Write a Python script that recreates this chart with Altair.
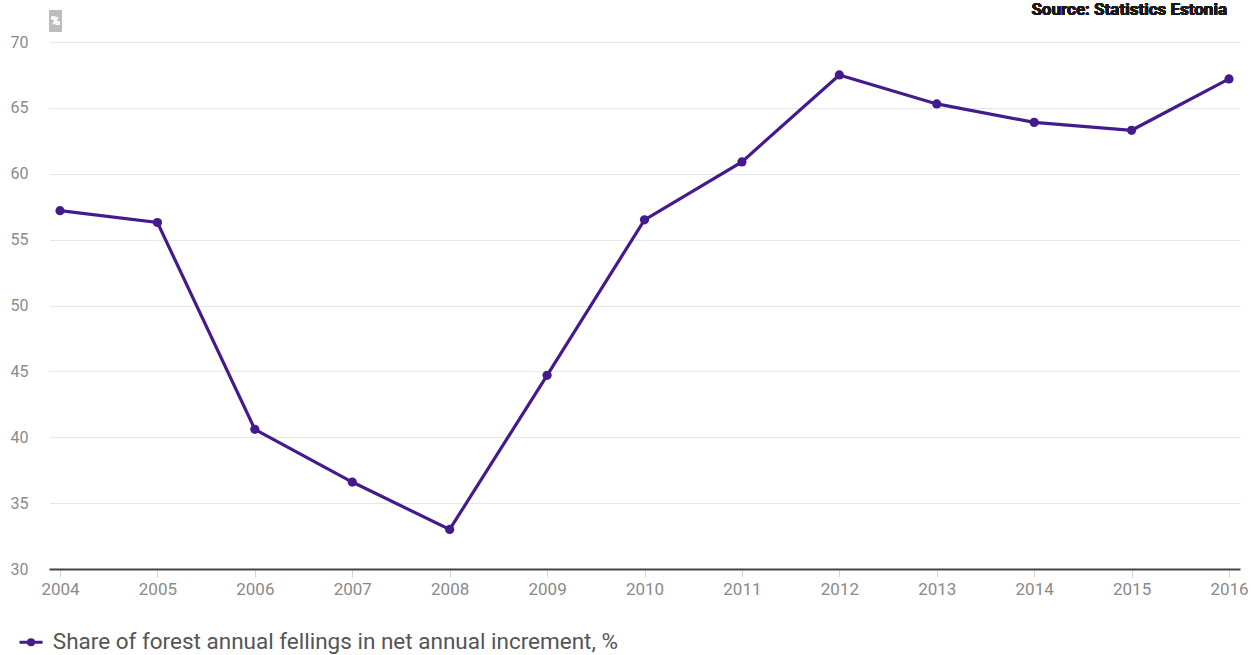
import altair as alt
import pandas as pd

years = ["2004", "2005", "2006", "2007", "2008", "2009", "2010",
         "2011", "2012", "2013", "2014", "2015", "2016"]
share = [57.2, 56.3, 40.6, 36.6, 33.0, 44.7, 56.5, 60.9, 67.5, 65.3, 63.9, 63.3, 67.2]
series_name = "Share of forest annual fellings in net annual increment, %"
y_ticks = [30, 35, 40, 45, 50, 55, 60, 65, 70]

df = pd.DataFrame({"year": years, "value": share, "series": series_name})

COLOR = "#441a8c"
FONT = "Roboto"

x_enc = alt.X("year:O", scale=alt.Scale(type="point", padding=0.113),
              axis=alt.Axis(title=None, labelAngle=0, labelColor="#8a8a8a", labelFontSize=17,
                            labelFont=FONT, tickColor="#ccd6eb", tickSize=8, tickWidth=1,
                            domainColor="#444444", domainWidth=2, labelPadding=4, grid=False))
y_enc = alt.Y("value:Q", scale=alt.Scale(domain=[30, 70], nice=False, zero=False),
              axis=alt.Axis(title=None, values=y_ticks, labelColor="#8a8a8a", labelFontSize=16,
                            labelFont=FONT, ticks=False, domain=False, gridColor="#e6e6e6",
                            gridWidth=1, labelPadding=21))

legend_symbol = "M-1.6,0 L1.6,0 M-0.36,0 A0.36,0.36 0 1,1 0.36,0 A0.36,0.36 0 1,1 -0.36,0 Z"

line = alt.Chart(df).mark_line(strokeWidth=3.2).encode(
    x=x_enc, y=y_enc,
    color=alt.Color("series:N", scale=alt.Scale(range=[COLOR]),
                    legend=alt.Legend(title=None, orient="none", legendX=-29.2, legendY=589,
                                      symbolType=legend_symbol, symbolSize=207,
                                      symbolStrokeWidth=3, symbolFillColor=COLOR,
                                      labelFontSize=22.5, labelFont=FONT, labelColor="#555555",
                                      labelLimit=900, labelOffset=10.5)),
)
points = alt.Chart(df).mark_point(filled=True, size=85, opacity=1).encode(
    x=alt.X("year:O"), y=alt.Y("value:Q"),
    color=alt.Color("series:N", legend=None),
)

unit_box = alt.Chart(df).mark_rect(color="#bdbdbd").encode(
    x=alt.value(0), x2=alt.value(13), y=alt.value(-32), y2=alt.value(-10))
unit_text = alt.Chart(df).mark_text(text="%", color="#ffffff", fontSize=12, font=FONT,
                                    align="center", baseline="middle").encode(
    x=alt.value(6.5), y=alt.value(-21))
source = alt.Chart(df).mark_text(text="Source: Statistics Estonia", color="#1a1a1a", fontSize=17,
                                 font=FONT, fontWeight="bold", align="right",
                                 baseline="middle").encode(
    x=alt.value(1178), y=alt.value(-32))

chart = alt.layer(line, points, unit_box, unit_text, source).properties(
    width=1191, height=527,
    autosize=alt.AutoSizeParams(type="none"),
    padding={"left": 49, "top": 42, "right": 11, "bottom": 86},
).configure(background="white").configure_view(strokeWidth=0, stroke="transparent")

chart.save("out.html", embed_options={"renderer": "svg", "actions": False})
